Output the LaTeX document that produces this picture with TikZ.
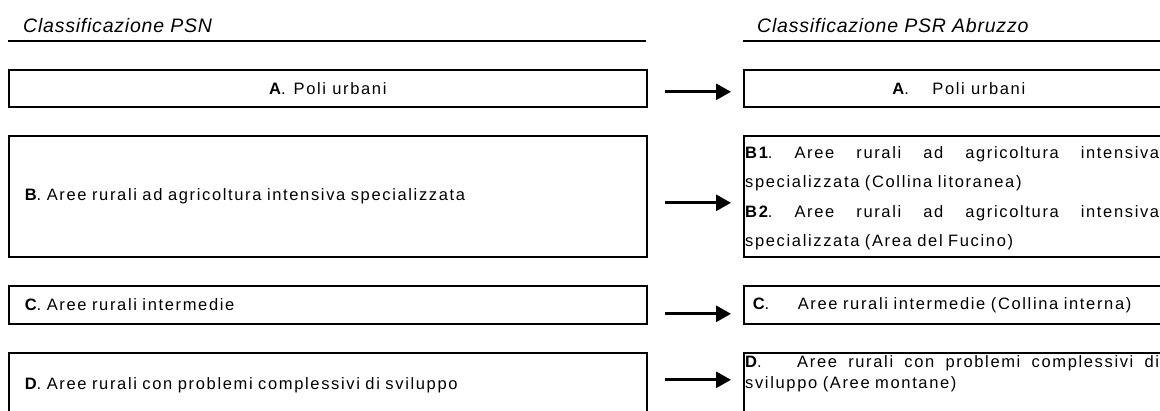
\documentclass[tikz,border=0pt]{standalone}
\usepackage{fontspec}
\setmainfont{Liberation Sans}[LetterSpace=10]
\newfontfamily\headfont{Liberation Sans}[LetterSpace=4]
\usetikzlibrary{arrows.meta}
\newcommand{\bodysize}{\fontsize{16.5}{21.5}\selectfont}
\newcommand{\jline}[1]{{\frenchspacing\spaceskip=0pt\xspaceskip=0pt\makebox[414pt][s]{#1}}}
\begin{document}
\begin{tikzpicture}[x=1pt,y=-1pt,
  box/.style={draw, line width=1.6pt, inner sep=0pt, font=\bodysize},
  rule/.style={line width=1.6pt},
  arr/.style={line width=3pt, -{Triangle[length=15pt,width=16pt]}},
  head/.style={font=\headfont\fontsize{19.5}{22}\selectfont\itshape, inner sep=0pt}]
\useasboundingbox (0,0) rectangle (1160,410);
\clip (0,0) rectangle (1160,410);
% headers
\node[head, anchor=base west] (hL) at (23,32) {Classificazione PSN};
\node[head, anchor=base west] (hR) at (757,32) {Classificazione PSR Abruzzo};
\coordinate (uL1) at (8,41);
\coordinate (uL2) at (646,41);
\coordinate (uR1) at (743,41);
\coordinate (uR2) at (1170,41);
\draw[rule] (uL1) -- (uL2);
\draw[rule] (uR1) -- (uR2);
% left boxes
\node[box, anchor=north west, minimum width=638pt, minimum height=37pt] (lA) at (8,69) {\textbf{A}.\hspace{8pt}Poli urbani};
\node[box, anchor=north west, minimum height=121pt, text width=606pt, inner xsep=16pt, align=left] (lB) at (8,135) {\textbf{B}. Aree rurali ad agricoltura intensiva specializzata};
\node[box, anchor=north west, minimum height=38pt, text width=606pt, inner xsep=16pt, align=left] (lC) at (8,285) {\textbf{C}. Aree rurali intermedie};
\node[box, anchor=north west, minimum height=64pt, text width=606pt, inner xsep=16pt, align=left] (lD) at (8,352) {\textbf{D}. Aree rurali con problemi complessivi di sviluppo};
% right boxes
\node[box, anchor=north west, minimum width=430pt, minimum height=37pt] (rA) at (743,69) {\makebox[40pt][l]{\textbf{A}.}Poli urbani};
\node[box, anchor=north west, minimum width=430pt, minimum height=121pt] (rB) at (743,135) {};
\node[box, anchor=north west, minimum height=38pt, text width=412pt, inner xsep=9pt, align=left] (rC) at (743,285) {\makebox[45pt][l]{\textbf{C}.}Aree rurali intermedie (Collina interna)};
\node[box, anchor=north west, minimum width=430pt, minimum height=64pt] (rD) at (743,352) {};
\node[anchor=north west, inner sep=0pt, text width=414pt, align=left, font=\fontsize{16.5}{29.5}\selectfont] (tB) at ([shift={(2,11.3)}]rB.north west)
 {\jline{\textbf{B1}. Aree rurali ad agricoltura intensiva}\\
  specializzata (Collina litoranea)\\
  \jline{\textbf{B2}. Aree rurali ad agricoltura intensiva}\\
  specializzata (Area del Fucino)};
\node[anchor=north west, inner sep=0pt, text width=414pt, align=left, font=\fontsize{16.5}{20.5}\selectfont] (tD) at ([shift={(2,3.5)}]rD.north west)
 {\jline{\makebox[52pt][l]{\textbf{D}.}Aree rurali con problemi complessivi di}\\
  sviluppo (Aree montane)};
% arrows
\draw[arr] ([shift={(17,3.5)}]lA.east) -- ([shift={(-12,3.5)}]rA.west);
\draw[arr] ([shift={(17,6.5)}]lB.east) -- ([shift={(-12,6.5)}]rB.west);
\draw[arr] ([shift={(17,9)}]lC.east) -- ([shift={(-12,9)}]rC.west);
\draw[arr] ([shift={(17,-5)}]lD.east) -- ([shift={(-12,-5)}]rD.west);
\end{tikzpicture}
\end{document}
